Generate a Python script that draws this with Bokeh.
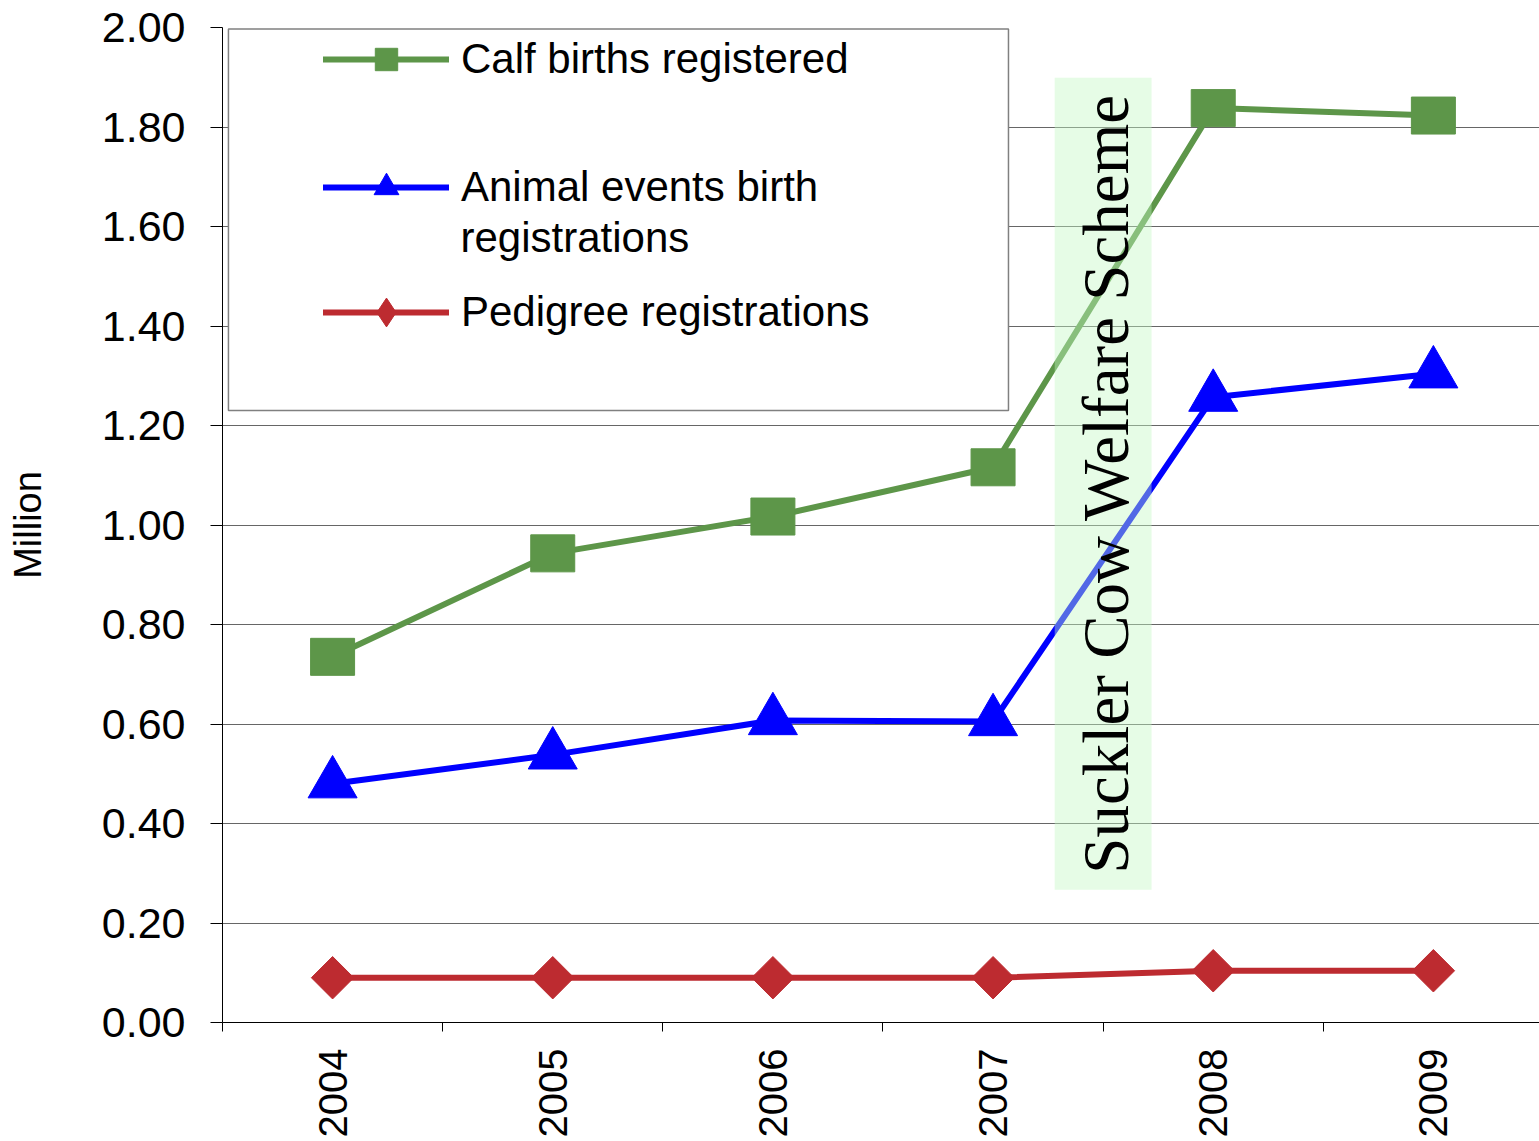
import math
from bokeh.plotting import figure
from bokeh.models import (Range1d, FixedTicker, NumeralTickFormatter, BoxAnnotation,
                          Label, Legend, LegendItem)
from bokeh.embed import file_html
from bokeh.resources import INLINE

# ---------------- data ----------------
years = ["2004", "2005", "2006", "2007", "2008", "2009"]
calf_births = [0.735, 0.943, 1.017, 1.116, 1.838, 1.823]
animal_events = [0.480, 0.538, 0.607, 0.605, 1.257, 1.304]
pedigree = [0.090, 0.090, 0.090, 0.090, 0.104, 0.104]
y_ticks = [0.0, 0.2, 0.4, 0.6, 0.8, 1.0, 1.2, 1.4, 1.6, 1.8, 2.0]

series_names = ["Calf births registered", "Animal events birth", "registrations",
                "Pedigree registrations"]
scheme_label = "Suckler Cow Welfare Scheme"

GREEN = "#5D9649"
BLUE = "#0000FF"
RED = "#BD2B30"
FONT = "Liberation Sans"

xs = list(range(len(years)))
boundaries = [i - 0.5 for i in range(len(years) + 1)]

p = figure(width=1539, height=1141, output_backend="svg", toolbar_location=None,
           x_range=Range1d(-0.5, 5.482), y_range=Range1d(0, 2.0),
           min_border_left=222, min_border_right=0, min_border_top=27,
           min_border_bottom=119)
p.outline_line_color = None
p.background_fill_color = "white"
p.border_fill_color = "white"

# ---------------- axes ----------------
p.xaxis.ticker = FixedTicker(ticks=xs, minor_ticks=boundaries)
p.xaxis.major_label_overrides = {i: y for i, y in enumerate(years)}
p.xaxis.major_label_orientation = math.pi / 2
p.xaxis.major_tick_out = 0
p.xaxis.major_tick_in = 0
p.xaxis.minor_tick_out = 9
p.xaxis.minor_tick_in = 0
p.xaxis.minor_tick_line_color = "black"
p.xaxis.axis_line_color = "black"
p.xaxis.major_label_standoff = 17
p.xaxis.major_label_text_font = FONT
p.xaxis.major_label_text_font_size = "40px"
p.xaxis.major_label_text_color = "black"

p.yaxis.ticker = FixedTicker(ticks=y_ticks, minor_ticks=[])
p.yaxis.formatter = NumeralTickFormatter(format="0.00")
p.yaxis.major_tick_out = 12
p.yaxis.major_tick_in = 0
p.yaxis.major_tick_line_color = "black"
p.yaxis.axis_line_color = "black"
p.yaxis.major_label_standoff = 25
p.yaxis.major_label_text_font = FONT
p.yaxis.major_label_text_font_size = "43px"
p.yaxis.major_label_text_color = "black"
p.yaxis.axis_label = "Million"
p.yaxis.axis_label_text_font = FONT
p.yaxis.axis_label_text_font_size = "38px"
p.yaxis.axis_label_text_font_style = "normal"
p.yaxis.axis_label_text_color = "black"
p.yaxis.axis_label_standoff = 50

p.xgrid.visible = False
p.ygrid.ticker = FixedTicker(ticks=y_ticks[1:])
p.ygrid.grid_line_color = "#666666"
p.ygrid.grid_line_width = 1.2

# ---------------- series ----------------
p.line(xs, calf_births, line_color=GREEN, line_width=6, line_join="round")
p.rect(xs, calf_births, width=44, height=37, width_units="screen", height_units="screen",
       fill_color=GREEN, line_color=GREEN)

p.line(xs, animal_events, line_color=BLUE, line_width=6, line_join="round")
p.scatter(xs, animal_events, marker="triangle", size=49, fill_color=BLUE, line_color=BLUE)

p.line(xs, pedigree, line_color=RED, line_width=6, line_join="round")
p.scatter(xs, pedigree, marker="square", angle=math.pi / 4, size=30,
          fill_color=RED, line_color=RED)

# ---------------- scheme band ----------------
band = BoxAnnotation(left=3.28, right=3.72, bottom=0.267, top=1.899,
                     fill_color="#C3F8C3", fill_alpha=0.42, line_color=None)
p.add_layout(band)
p.add_layout(Label(x=3.5, y=1.083, text=scheme_label, angle=math.pi / 2,
                   text_align="center", text_baseline="middle", x_offset=3,
                   text_font="Liberation Serif", text_font_size="65px",
                   text_color="black"))

# ---------------- legend ----------------
legend_box = BoxAnnotation(left=-0.473, right=3.07, bottom=1.230, top=1.997,
                           fill_color="white", fill_alpha=1.0,
                           line_color="#808080", line_alpha=1.0, line_width=1.5)
p.add_layout(legend_box)

# legend sample renderers (placed outside the visible range)
off = [-10]
lg_calf_line = p.line(off, off, line_color=GREEN, line_width=6, line_cap="round")
lg_calf_mark = p.scatter(off, off, marker="square", fill_color=GREEN, line_color=GREEN)
lg_anim_line = p.line(off, off, line_color=BLUE, line_width=6, line_cap="round")
lg_anim_mark = p.scatter(off, off, marker="triangle", fill_color=BLUE, line_color=BLUE)
lg_ped_line = p.line(off, off, line_color=RED, line_width=6, line_cap="round")
lg_ped_mark = p.scatter(off, off, marker="diamond", fill_color=RED, line_color=RED)


def add_legend(label, renderers, vy, gh):
    lg = Legend(items=[LegendItem(label=label, renderers=renderers)],
                location=(101, vy), glyph_width=126, glyph_height=gh,
                label_standoff=12, padding=0, margin=0, spacing=0,
                border_line_color=None, background_fill_alpha=0,
                label_text_font=FONT, label_text_font_size="42px",
                label_text_color="black", label_height=gh)
    p.add_layout(lg)


add_legend(series_names[0], [lg_calf_line, lg_calf_mark], 935, 56)
add_legend(series_names[1], [lg_anim_line, lg_anim_mark], 804, 62)
add_legend(series_names[3], [lg_ped_line, lg_ped_mark], 674, 72)
p.add_layout(Label(x=-0.5 + 238 / 220.17, y=1.578, text=series_names[2],
                   text_align="left", text_baseline="middle",
                   text_font=FONT, text_font_size="42px", text_color="black"))

open("out.html", "w").write(file_html(p, INLINE))
